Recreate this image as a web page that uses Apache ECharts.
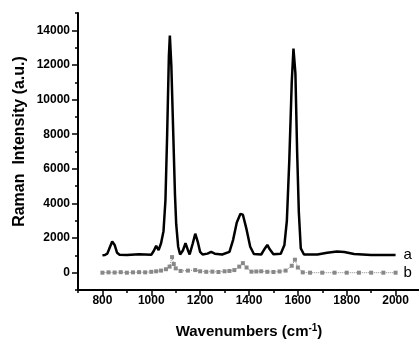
<!DOCTYPE html>
<html>
<head>
<meta charset="utf-8">
<script src="https://cdn.jsdelivr.net/npm/echarts@6/dist/echarts.min.js"></script>
<style>
  html, body { margin: 0; padding: 0; background: #fff; }
  #chart { width: 419px; height: 340px; }
</style>
</head>
<body>
<div id="chart"></div>
<script>
// spectrum a (wavenumber, intensity)
var seriesA = [
  [800, 1000], [810, 1020], [820, 1100], [830, 1450], [840, 1800], [850, 1600], [860, 1150],
  [870, 1040], [900, 1020], [950, 1060], [1000, 1040], [1010, 1250], [1020, 1550], [1030, 1300],
  [1040, 1700], [1050, 2400], [1058, 4200], [1065, 8000], [1072, 12500], [1076, 13700],
  [1082, 12000], [1090, 8000], [1097, 4500], [1102, 2800], [1110, 1500], [1118, 1050],
  [1130, 1300], [1140, 1700], [1150, 1300], [1157, 1050], [1170, 1700], [1180, 2250],
  [1190, 1800], [1200, 1200], [1210, 1050], [1230, 1100], [1245, 1200], [1260, 1100],
  [1290, 1050], [1320, 1200], [1335, 1900], [1350, 2900], [1365, 3400], [1375, 3350],
  [1390, 2500], [1405, 1500], [1420, 1080], [1450, 1050], [1465, 1400], [1475, 1600],
  [1485, 1350], [1500, 1060], [1530, 1100], [1545, 1600], [1555, 3000], [1565, 6500],
  [1575, 11000], [1582, 12950], [1590, 11500], [1597, 7000], [1604, 3500], [1612, 1400],
  [1625, 1050], [1680, 1050], [1720, 1150], [1760, 1220], [1790, 1200], [1830, 1080],
  [1900, 1020], [2000, 1020]
];
// spectrum b
var seriesB = [
  [800, 0], [825, 20], [850, 10], [875, 30], [900, 0], [925, 20], [950, 30], [975, 20],
  [1000, 50], [1020, 80], [1040, 120], [1060, 200], [1075, 350], [1085, 900], [1092, 500],
  [1100, 250], [1120, 100], [1150, 120], [1180, 150], [1200, 80], [1225, 50], [1250, 60],
  [1275, 40], [1300, 80], [1320, 100], [1340, 150], [1360, 350], [1375, 550], [1390, 300],
  [1410, 60], [1430, 70], [1450, 80], [1475, 50], [1500, 40], [1525, 70], [1550, 120],
  [1575, 400], [1588, 750], [1600, 300], [1620, 20], [1650, 0], [1700, 0], [1750, 0],
  [1800, 0], [1850, 0], [1900, 0], [1950, 0], [2000, 0]
];
var xTicks = [800, 1000, 1200, 1400, 1600, 1800, 2000];
var yTicks = [0, 2000, 4000, 6000, 8000, 10000, 12000, 14000];
var seriesNames = ['a', 'b'];

var font = "'Liberation Sans', Arial, sans-serif";
var myChart = echarts.init(document.getElementById('chart'));

var axisBase = {
  type: 'value',
  splitLine: { show: false },
  axisLine: { show: true, onZero: false, lineStyle: { color: '#000', width: 2 } }
};
var plain = function (v) { return String(v); };

var option = {
  animation: false,
  backgroundColor: '#fff',
  grid: { left: 78, right: -1, top: 13, bottom: 50, outerBoundsMode: 'none' },
  xAxis: [
    Object.assign({}, axisBase, {
      position: 'bottom',
      min: 700, max: 2100, interval: 100,
      axisTick: { length: 3, lineStyle: { color: '#000', width: 1.5 } },
      axisLabel: { show: false },
      name: 'Wavenumbers (cm{sup|-1})',
      nameLocation: 'middle',
      nameGap: 33,
      nameTextStyle: {
        fontFamily: font, fontSize: 15, fontWeight: 'bold', color: '#000',
        rich: { sup: { fontFamily: font, fontSize: 10, fontWeight: 'bold', color: '#000', verticalAlign: 'top', padding: [0, 0, 8, 0] } }
      }
    }),
    Object.assign({}, axisBase, {
      position: 'bottom',
      min: 700, max: 2100,
      axisLine: { show: false, onZero: false },
      axisTick: { customValues: xTicks, length: 6, lineStyle: { color: '#000', width: 1.5 } },
      axisLabel: { customValues: xTicks, formatter: plain, fontFamily: font, fontSize: 12, fontWeight: 'bold', color: '#000', margin: 5 }
    })
  ],
  yAxis: [
    Object.assign({}, axisBase, {
      position: 'left',
      min: -1000, max: 15000, interval: 1000,
      axisTick: { length: 3, lineStyle: { color: '#000', width: 1.5 } },
      axisLabel: { show: false },
      name: 'Raman  Intensity (a.u.)',
      nameLocation: 'middle',
      nameGap: 50,
      nameTextStyle: { fontFamily: font, fontSize: 16, fontWeight: 'bold', color: '#000', padding: [0, 0, 0, 20] }
    }),
    Object.assign({}, axisBase, {
      position: 'left',
      min: -1000, max: 15000,
      axisLine: { show: false, onZero: false },
      axisTick: { customValues: yTicks, length: 6, lineStyle: { color: '#000', width: 1.5 } },
      axisLabel: { customValues: yTicks, formatter: plain, fontFamily: font, fontSize: 12, fontWeight: 'bold', color: '#000', margin: 8 }
    })
  ],
  series: [
    {
      name: seriesNames[0],
      type: 'line',
      data: seriesA,
      showSymbol: false,
      lineStyle: { color: '#000', width: 2.5 },
      itemStyle: { color: '#000' },
      endLabel: { show: true, formatter: seriesNames[0], distance: 8, fontFamily: font, fontSize: 15, color: '#000' }
    },
    {
      name: seriesNames[1],
      type: 'line',
      data: seriesB,
      symbol: 'emptyRect',
      symbolSize: 2,
      lineStyle: { color: '#888', width: 1, type: 'dotted' },
      itemStyle: { color: '#888', borderWidth: 0.6 },
      endLabel: { show: true, formatter: seriesNames[1], distance: 8, fontFamily: font, fontSize: 15, color: '#000' }
    }
  ]
};
myChart.setOption(option);
</script>
</body>
</html>
